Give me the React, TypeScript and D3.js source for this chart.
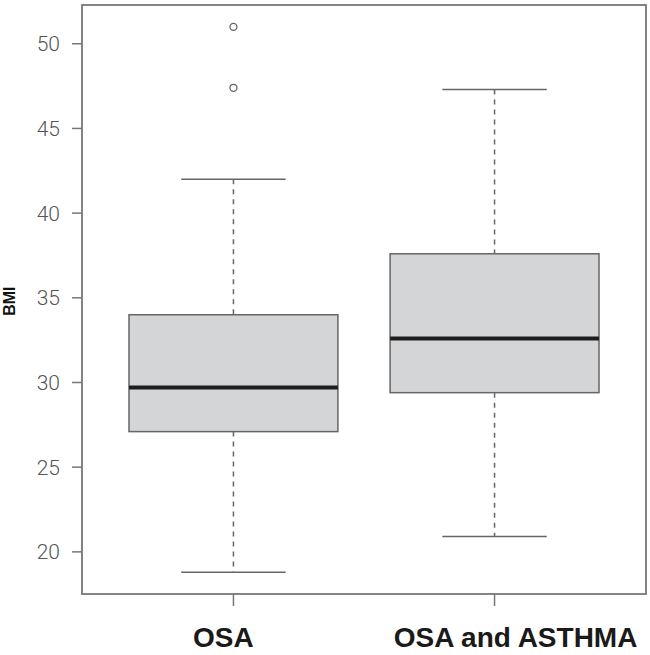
import * as d3 from 'd3'
import React, { useRef, useEffect } from 'react'

const categories = ['OSA', 'OSA and ASTHMA']
const lowerWhisker = [18.8, 20.9]
const q1 = [27.1, 29.4]
const median = [29.7, 32.6]
const q3 = [34.0, 37.6]
const upperWhisker = [42.0, 47.3]
const outliers = [[51.0, 47.4], []]
const yTicks = [20, 25, 30, 35, 40, 45, 50]
const yLabel = 'BMI'

const App = () => {
  const ref = useRef(null)

  useEffect(() => {
    draw()
  }, [])

  const draw = () => {
    const totalWidth = 650
    const totalHeight = 655
    const plot = { left: 82, right: 646, top: 5, bottom: 594 }
    const frameColor = '#777'
    const labelDx = [-10, 21]

    const svg = d3.select(ref.current).attr('width', totalWidth).attr('height', totalHeight)
    svg.selectAll('*').remove()

    // R style ranges: 4% padding on each side
    const allVals = [...lowerWhisker, ...upperWhisker, ...outliers.flat()]
    const [lo, hi] = d3.extent(allVals) as [number, number]
    const pad = (hi - lo) * 0.04
    const yScale = d3.scaleLinear().domain([lo - pad, hi + pad]).range([plot.bottom, plot.top])

    const n = categories.length
    const xPad = n * 0.04
    const xScale = d3
      .scaleLinear()
      .domain([0.5 - xPad, n + 0.5 + xPad])
      .range([plot.left, plot.right])
    const halfBox = xScale(0.4) - xScale(0)
    const halfCap = halfBox / 2

    const g = svg.append('g')

    categories.forEach((c, i) => {
      const cx = xScale(i + 1)
      // whiskers (dashed)
      g.append('line')
        .attr('x1', cx).attr('x2', cx)
        .attr('y1', yScale(upperWhisker[i])).attr('y2', yScale(q3[i]))
        .attr('stroke', '#666').attr('stroke-width', 1.5).attr('stroke-dasharray', '5,5')
      g.append('line')
        .attr('x1', cx).attr('x2', cx)
        .attr('y1', yScale(q1[i])).attr('y2', yScale(lowerWhisker[i]))
        .attr('stroke', '#666').attr('stroke-width', 1.5).attr('stroke-dasharray', '5,5')
      // caps
      ;[upperWhisker[i], lowerWhisker[i]].forEach((v) => {
        g.append('line')
          .attr('x1', cx - halfCap).attr('x2', cx + halfCap)
          .attr('y1', yScale(v)).attr('y2', yScale(v))
          .attr('stroke', '#666').attr('stroke-width', 1.5)
      })
      // box
      g.append('rect')
        .attr('x', cx - halfBox)
        .attr('y', yScale(q3[i]))
        .attr('width', halfBox * 2)
        .attr('height', yScale(q1[i]) - yScale(q3[i]))
        .attr('fill', '#d4d5d7')
        .attr('stroke', '#666')
        .attr('stroke-width', 1.5)
      // median
      g.append('line')
        .attr('x1', cx - halfBox).attr('x2', cx + halfBox)
        .attr('y1', yScale(median[i])).attr('y2', yScale(median[i]))
        .attr('stroke', '#1e1e1e').attr('stroke-width', 4)
      // outliers
      g.selectAll(null)
        .data(outliers[i])
        .enter()
        .append('circle')
        .attr('cx', cx)
        .attr('cy', (d) => yScale(d))
        .attr('r', 3.5)
        .attr('fill', 'none')
        .attr('stroke', '#666')
        .attr('stroke-width', 1.3)
    })

    // frame
    svg.append('rect')
      .attr('x', plot.left).attr('y', plot.top)
      .attr('width', plot.right - plot.left).attr('height', plot.bottom - plot.top)
      .attr('fill', 'none').attr('stroke', frameColor).attr('stroke-width', 1.8)

    // y axis
    const yAxis = svg.append('g')
    yTicks.forEach((t) => {
      yAxis.append('line')
        .attr('x1', plot.left - 10).attr('x2', plot.left)
        .attr('y1', yScale(t)).attr('y2', yScale(t))
        .attr('stroke', frameColor).attr('stroke-width', 1.5)
      yAxis.append('text')
        .attr('x', plot.left - 22)
        .attr('y', yScale(t))
        .attr('dy', '0.36em')
        .attr('text-anchor', 'end')
        .attr('font-family', 'Roboto, sans-serif')
        .attr('font-weight', 300)
        .attr('font-size', 21)
        .attr('fill', '#555')
        .text(t)
    })

    svg.append('text')
      .attr('transform', `translate(15, ${yScale(34.8)}) rotate(-90)`)
      .attr('text-anchor', 'middle')
      .attr('font-family', '"Liberation Sans", Arial, sans-serif')
      .attr('font-weight', 'bold')
      .attr('font-size', 16)
      .attr('fill', '#111')
      .text(yLabel)

    // x axis
    categories.forEach((c, i) => {
      const cx = xScale(i + 1)
      svg.append('line')
        .attr('x1', cx).attr('x2', cx)
        .attr('y1', plot.bottom).attr('y2', plot.bottom + 12)
        .attr('stroke', frameColor).attr('stroke-width', 1.5)
      svg.append('text')
        .attr('x', cx + labelDx[i])
        .attr('y', 647)
        .attr('text-anchor', 'middle')
        .attr('font-family', '"Liberation Sans", Arial, sans-serif')
        .attr('font-weight', 'bold')
        .attr('font-size', 28)
        .attr('fill', '#1a1a1a')
        .text(c)
    })
  }

  return (
    <div style={{ position: 'absolute', left: 0, top: 0 }}>
      <svg ref={ref} style={{ display: 'block' }} />
    </div>
  )
}

export default App
